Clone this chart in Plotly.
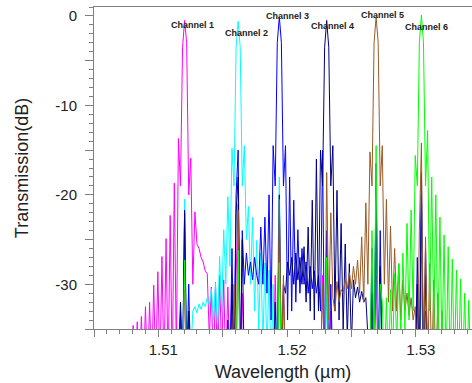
import plotly.graph_objects as go

# wavelength grid (um): start and step of the sampled spectra
wl_start = 1.505
wl_step = 0.00016
n_pts = 184
wavelength = [round(wl_start + wl_step * i, 6) for i in range(n_pts)]

channel_names = ["Channel 1", "Channel 2", "Channel 3", "Channel 4", "Channel 5", "Channel 6"]

# transmission (dB); -40 means below the visible range
ch1_db = [
    -40, -40, -40, -40, -40, -40, -40, -40, -40, -40,
    -40, -40, -40, -40, -40, -40, -40, -36.5, -40, -34.6,
    -40, -34.2, -40, -33.6, -40, -32.5, -40, -32, -40, -30.1,
    -40, -28.6, -40, -26.9, -40, -24.9, -40, -22.3, -40, -18.7,
    -38, -13.7, -19, -3.5, -0.5, -3, -20, -15.9, -30, -21.9,
    -25.5, -26, -27, -27.5, -28.5, -28.8, -36, -30.3, -40, -29.8,
    -40, -29, -38, -29.5, -40, -30.3, -40, -32.5, -40, -29,
    -21, -40, -31, -40, -40, -40, -40, -40, -40, -40,
    -40, -40, -40, -40, -40, -40, -40, -40, -29, -40,
    -21, -40, -30, -40, -40, -40, -40, -40, -40, -40,
    -40, -40, -40, -40, -40, -40, -40, -40, -40, -40,
    -40, -29, -40, -25, -40, -33, -40, -40, -40, -40,
    -40, -40, -40, -40, -40, -40, -40, -40, -40, -40,
    -40, -40, -40, -40, -40, -33, -40, -29, -40, -40,
    -40, -40, -40, -40, -40, -40, -40, -40, -40, -40,
    -40, -40, -40, -40, -40, -40, -40, -32, -40, -28,
    -40, -33, -40, -40, -40, -40, -40, -40, -40, -40,
    -40, -40, -40, -40, -40, -40, -40, -40, -40, -40,
    -40, -40, -40, -40,
]

ch2_db = [
    -40, -40, -40, -40, -40, -40, -40, -40, -40, -40,
    -40, -40, -40, -40, -40, -40, -40, -40, -40, -40,
    -40, -40, -40, -40, -40, -40, -40, -40, -40, -40,
    -40, -40, -40, -40, -40, -40, -40, -40, -40, -40,
    -40, -40, -32, -40, -20.5, -40, -34, -38, -33, -32.5,
    -33.2, -32.2, -32.8, -32, -32.5, -31.5, -32.3, -30.5, -34, -29.9,
    -35, -26.9, -33, -23.9, -30, -20.2, -28, -14.8, -19, -3.5,
    -0.6, -3.5, -19, -14.5, -25, -21.3, -30, -22.5, -33, -25.1,
    -35, -26.5, -37, -27.6, -38, -28.4, -40, -30, -40, -32.8,
    -18, -40, -33, -40, -40, -40, -40, -40, -40, -40,
    -40, -40, -40, -40, -40, -40, -40, -40, -40, -40,
    -40, -36, -40, -31.4, -40, -40, -40, -40, -40, -40,
    -40, -40, -40, -40, -40, -40, -40, -40, -40, -40,
    -40, -40, -40, -40, -40, -30, -40, -22, -40, -31,
    -40, -40, -40, -40, -40, -40, -40, -40, -40, -40,
    -40, -40, -40, -40, -40, -40, -40, -35, -40, -27,
    -40, -40, -40, -40, -40, -40, -40, -40, -40, -40,
    -40, -40, -40, -40, -40, -40, -40, -40, -40, -40,
    -40, -40, -40, -40,
]

ch3_db = [
    -40, -40, -40, -40, -40, -40, -40, -40, -40, -40,
    -40, -40, -40, -40, -40, -40, -40, -40, -40, -40,
    -40, -40, -40, -40, -40, -40, -40, -40, -40, -40,
    -40, -40, -40, -40, -40, -40, -40, -40, -40, -40,
    -40, -40, -33, -40, -21.7, -40, -30, -40, -40, -40,
    -40, -40, -40, -40, -40, -40, -40, -40, -40, -40,
    -40, -40, -40, -40, -40, -34, -40, -26, -40, -20,
    -15, -40, -24, -30, -26.5, -29, -27.5, -29.5, -27, -29,
    -30, -23.6, -30, -22.5, -31, -20, -34, -14.5, -19, -3,
    -0.1, -3, -19, -14.5, -34, -18, -33, -20.6, -32, -23.9,
    -31, -26, -30, -27.5, -31, -28, -30.5, -28.5, -31, -29,
    -33, -15, -40, -24, -40, -30, -40, -40, -40, -40,
    -40, -40, -40, -40, -40, -40, -40, -40, -40, -40,
    -40, -40, -40, -40, -40, -26, -40, -16.5, -40, -24,
    -40, -40, -40, -40, -40, -40, -40, -40, -40, -40,
    -40, -40, -40, -40, -40, -40, -40, -27, -40, -17.5,
    -40, -26, -40, -40, -40, -40, -40, -40, -40, -40,
    -40, -40, -40, -40, -40, -40, -40, -40, -40, -40,
    -40, -40, -40, -40,
]

ch4_db = [
    -40, -40, -40, -40, -40, -40, -40, -40, -40, -40,
    -40, -40, -40, -40, -40, -40, -40, -40, -40, -40,
    -40, -40, -40, -40, -40, -40, -40, -40, -40, -40,
    -40, -40, -40, -40, -40, -40, -40, -40, -40, -40,
    -40, -40, -32, -40, -22, -40, -33, -40, -40, -40,
    -40, -40, -40, -40, -40, -40, -40, -40, -40, -40,
    -40, -40, -40, -40, -40, -40, -40, -30, -40, -22,
    -18, -40, -25, -40, -40, -40, -40, -40, -40, -40,
    -40, -40, -40, -40, -40, -40, -40, -40, -32, -40,
    -20, -40, -30, -31, -27.5, -29, -27, -30, -26.5, -29.5,
    -27, -30, -25.8, -32, -23.6, -33, -20.6, -34, -16, -33,
    -15, -19, -3.5, -0.5, -3.5, -19, -14.5, -33, -19.5, -34,
    -23.2, -35, -25.5, -36, -27.7, -37, -29.5, -31.5, -30.3, -32,
    -30.8, -32, -31.5, -36, -40, -31, -40, -19, -40, -28,
    -40, -40, -40, -40, -40, -40, -40, -40, -40, -40,
    -40, -40, -40, -40, -40, -40, -40, -30, -40, -20,
    -40, -29, -40, -40, -40, -40, -40, -40, -40, -40,
    -40, -40, -40, -40, -40, -40, -40, -40, -40, -40,
    -40, -40, -40, -40,
]

ch5_db = [
    -40, -40, -40, -40, -40, -40, -40, -40, -40, -40,
    -40, -40, -40, -40, -40, -40, -40, -40, -40, -40,
    -40, -40, -40, -40, -40, -40, -40, -40, -40, -40,
    -40, -40, -40, -40, -40, -40, -40, -40, -40, -40,
    -40, -40, -40, -40, -30.6, -40, -40, -40, -40, -40,
    -40, -40, -40, -40, -40, -40, -40, -40, -40, -40,
    -40, -40, -40, -40, -40, -40, -40, -40, -30, -40,
    -21.7, -40, -40, -40, -40, -40, -40, -40, -40, -40,
    -40, -40, -40, -40, -40, -40, -40, -40, -40, -40,
    -20.5, -40, -29, -40, -40, -40, -40, -40, -40, -40,
    -40, -40, -40, -40, -40, -40, -40, -40, -40, -40,
    -40, -30, -40, -17.5, -34, -22, -31.5, -33, -29.7, -32,
    -30.6, -31, -29.5, -30.5, -28.7, -30.5, -28, -30, -27.3, -31,
    -24.7, -32, -20.9, -30, -15.2, -19, -3, -0.1, -3, -19,
    -14.5, -30, -20.5, -32, -23.5, -33, -26, -33, -27.7, -34,
    -29.5, -33, -31, -33.5, -31.5, -34, -32.5, -40, -24, -14.2,
    -40, -24.7, -40, -27.7, -40, -29.5, -40, -31, -40, -33,
    -40, -40, -40, -40, -40, -40, -40, -40, -40, -40,
    -40, -40, -40, -40,
]

ch6_db = [
    -40, -40, -40, -40, -40, -40, -40, -40, -40, -40,
    -40, -40, -40, -40, -40, -40, -40, -40, -40, -40,
    -40, -40, -40, -40, -40, -40, -40, -40, -40, -40,
    -40, -40, -40, -40, -40, -40, -40, -40, -40, -40,
    -40, -40, -40, -40, -27.3, -40, -40, -40, -40, -40,
    -40, -40, -40, -40, -40, -40, -40, -40, -40, -40,
    -40, -40, -40, -40, -40, -40, -40, -40, -40, -40,
    -26.2, -40, -40, -40, -40, -40, -40, -40, -40, -40,
    -40, -40, -40, -40, -40, -40, -40, -40, -40, -40,
    -27.6, -40, -40, -40, -40, -40, -40, -40, -40, -40,
    -40, -40, -40, -40, -40, -40, -40, -40, -40, -40,
    -40, -40, -40, -27, -40, -40, -40, -40, -40, -40,
    -40, -40, -40, -40, -40, -40, -40, -40, -40, -40,
    -40, -40, -40, -40, -40, -24, -40, -14.5, -40, -30,
    -32, -40, -31.5, -40, -30.6, -38, -28.8, -37, -27.7, -36,
    -26.5, -35, -23.2, -34, -21.7, -33, -15.6, -19, -3, 0.1,
    -3, -19, -12.8, -33, -18, -35, -20, -37, -22.5, -38,
    -24.5, -40, -25.8, -40, -27.2, -40, -28.4, -40, -29.4, -40,
    -31, -40, -31.8, -40,
]

series = [ch1_db, ch2_db, ch3_db, ch4_db, ch5_db, ch6_db]
colors = ["#FF00FF", "#00FFFF", "#0000FF", "#000080", "#9B5B26", "#00FF00"]

# label anchor positions (wavelength, dB)
label_wl = [1.51263, 1.51684, 1.52007, 1.52355, 1.52741, 1.53083]
label_db = [-0.96, -1.86, 0.0, -1.15, 0.08, -1.23]

x_tickvals = [1.505, 1.51, 1.515, 1.52, 1.525, 1.53]
x_ticktext = ["", "1.51", "", "1.52", "", "1.53"]
y_tickvals = [-35, -30, -25, -20, -15, -10, -5, 0]
y_ticktext = ["", "-30", "", "-20", "", "-10", "", "0"]

fig = go.Figure()
for name, vals, col in zip(channel_names, series, colors):
    fig.add_trace(go.Scatter(x=wavelength, y=vals, mode="lines", name=name,
                             line=dict(color=col, width=1)))

for name, lx, ly in zip(channel_names, label_wl, label_db):
    fig.add_annotation(x=lx, y=ly, text=name, showarrow=False,
                       font=dict(family="Liberation Sans, Arial", size=9, color="#222222", weight="bold"),
                       xanchor="center", yanchor="middle")

axis_color = "#808080"
fig.update_layout(
    width=472, height=383,
    margin=dict(l=94, r=0, t=7, b=54),
    paper_bgcolor="white", plot_bgcolor="white",
    showlegend=False,
    font=dict(family="Liberation Sans, Arial", size=15, color="#222222"),
    xaxis=dict(range=[1.505, 1.53437], showline=True, linecolor=axis_color, linewidth=1,
               mirror=True, ticks="outside", ticklen=7, tickcolor=axis_color,
               tickmode="array", tickvals=x_tickvals, ticktext=x_ticktext,
               ticklabelshift=5,
               minor=dict(tickmode="linear", tick0=1.505, dtick=0.001, ticklen=4,
                          ticks="outside", tickcolor=axis_color, showgrid=False),
               showgrid=False, zeroline=False, automargin=False,
               title=dict(text="Wavelength (µm)", standoff=8)),
    yaxis=dict(range=[-35, 1], showline=True, linecolor=axis_color, linewidth=1,
               ticks="outside", ticklen=8, tickcolor=axis_color,
               tickmode="array", tickvals=y_tickvals, ticktext=y_ticktext,
               ticklabelstandoff=5,
               minor=dict(tickmode="linear", tick0=0, dtick=1, ticklen=4,
                          ticks="outside", tickcolor=axis_color, showgrid=False),
               showgrid=False, zeroline=False, automargin=False,
               title=dict(text="Transmission(dB)", standoff=22)),
)

fig.write_html("out.html", config={"displayModeBar": False},
               post_script="document.body.style.margin='0';")
